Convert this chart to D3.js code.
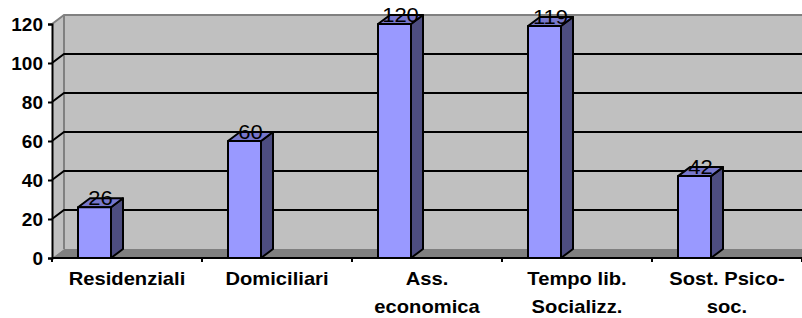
<!DOCTYPE html>
<html>
<head>
<meta charset="utf-8">
<script src="https://cdn.jsdelivr.net/npm/d3@7"></script>
<style>
  body { margin: 0; background: #fff; }
  svg { display: block; }
</style>
</head>
<body>
<script>
// data
const categories = ["Residenziali", "Domiciliari", "Ass. economica", "Tempo lib. Socializz.", "Sost. Psico-soc."];
const labelLines = [["Residenziali"], ["Domiciliari"], ["Ass.", "economica"], ["Tempo lib.", "Socializz."], ["Sost. Psico-", "soc."]];
const values = [26, 60, 120, 119, 42];
const yTicks = [0, 20, 40, 60, 80, 100, 120];

const W = 802, H = 318;
const dx = 12, dy = -9; // 3d depth offset
const font = "'Liberation Sans', Arial, sans-serif";

const svg = d3.select("body").append("svg")
	.attr("width", W)
	.attr("height", H);

const x = d3.scaleBand()
	.domain(categories)
	.range([52, 802]);

const y = d3.scaleLinear()
	.domain([0, 120])
	.range([258, 24]);

const x0 = x.range()[0], x1 = x.range()[1];
const yb = y(0), yt = y(120);

// left wall
svg.append("polygon")
	.attr("fill", "#c0c0c0")
	.attr("points", [[x0, yt], [x0 + dx, yt + dy], [x0 + dx, yb + dy], [x0, yb]].join(" "));

// back wall
svg.append("rect")
	.attr("x", x0 + dx)
	.attr("y", yt + dy)
	.attr("width", x1 - x0)
	.attr("height", yb - yt)
	.attr("fill", "#c0c0c0");

// floor
svg.append("polygon")
	.attr("fill", "#808080")
	.attr("points", [[x0, yb], [x0 + dx, yb + dy], [x1 + dx, yb + dy], [x1, yb]].join(" "));

// wall borders
svg.append("polyline")
	.attr("fill", "none")
	.attr("stroke", "#808080")
	.attr("stroke-width", 2)
	.attr("points", [[x0, yt], [x0 + dx, yt + dy], [x1 + dx, yt + dy]].join(" "));
svg.append("line")
	.attr("x1", x0 + dx).attr("x2", x0 + dx)
	.attr("y1", yt + dy).attr("y2", yb + dy)
	.attr("stroke", "#808080")
	.attr("stroke-width", 2);

// gridlines
svg.append("g").selectAll("polyline")
	.data(yTicks.filter(d => d > 0 && d < 120))
	.join("polyline")
	.attr("fill", "none")
	.attr("stroke", "#000")
	.attr("stroke-width", 2)
	.attr("points", d => [[x0, y(d)], [x0 + dx, y(d) + dy], [x1 + dx, y(d) + dy]].join(" "));

// y axis
const yAxis = svg.append("g")
	.attr("transform", `translate(${x0},0)`)
	.call(d3.axisLeft(y).tickValues(yTicks).tickSize(4).tickPadding(5));
yAxis.select(".domain").attr("stroke", "#000").attr("stroke-width", 2);
yAxis.selectAll(".tick line").attr("stroke", "#000").attr("stroke-width", 2);
yAxis.selectAll(".tick text")
	.style("font-family", font)
	.style("font-size", "19px")
	.style("font-weight", "bold")
	.attr("fill", "#000");

// x axis
svg.append("line")
	.attr("x1", x0).attr("x2", x1)
	.attr("y1", yb).attr("y2", yb)
	.attr("stroke", "#000")
	.attr("stroke-width", 2);
svg.append("g").selectAll("line")
	.data(categories.map(c => x(c)).concat([x1]))
	.join("line")
	.attr("x1", d => d).attr("x2", d => d)
	.attr("y1", yb).attr("y2", yb + 4)
	.attr("stroke", "#000")
	.attr("stroke-width", 2);

// bars
const bw = 33, off = 26;
const bars = svg.append("g")
	.attr("stroke", "#000")
	.attr("stroke-width", 2)
	.attr("stroke-linejoin", "round");

categories.forEach((c, i) => {
	const xl = x(c) + off, xr = xl + bw, top = y(values[i]);
	bars.append("polygon")
		.attr("fill", "#4d4d80")
		.attr("points", [[xr, top], [xr + dx, top + dy], [xr + dx, yb + dy], [xr, yb]].join(" "));
	bars.append("polygon")
		.attr("fill", "#7777cc")
		.attr("points", [[xl, top], [xl + dx, top + dy], [xr + dx, top + dy], [xr, top]].join(" "));
	bars.append("rect")
		.attr("x", xl)
		.attr("y", top)
		.attr("width", bw)
		.attr("height", yb - top)
		.attr("fill", "#9999ff");
});

// value labels
svg.append("g").selectAll("text")
	.data(values)
	.join("text")
	.attr("transform", (d, i) => `translate(${x(categories[i]) + off + (bw + dx) / 2},${y(d) - 2}) scale(1.1,1)`)
	.attr("text-anchor", "middle")
	.style("font-family", font)
	.style("font-size", "20px")
	.attr("fill", "#000")
	.text(d => d);

// category labels
const cl = svg.append("g").selectAll("text")
	.data(categories)
	.join("text")
	.attr("transform", d => `translate(${x(d) + x.bandwidth() / 2},285) scale(1.12,1)`)
	.attr("text-anchor", "middle")
	.style("font-family", font)
	.style("font-size", "18px")
	.style("font-weight", "bold")
	.attr("fill", "#000");
cl.selectAll("tspan")
	.data((d, i) => labelLines[i])
	.join("tspan")
	.attr("x", 0)
	.attr("y", (d, j) => j * 28)
	.text(d => d);
</script>
</body>
</html>
